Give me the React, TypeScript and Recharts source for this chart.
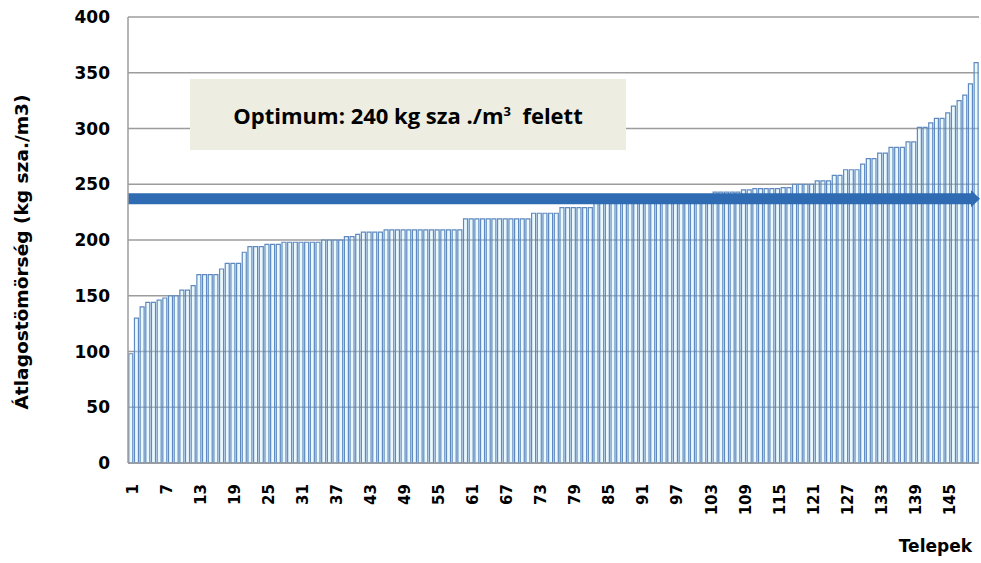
import { BarChart, Bar, XAxis, YAxis, CartesianGrid, ReferenceLine } from "recharts";

// sorted average density per site (kg sza./m3)
const VALUES = [
  98, 130, 140, 144, 144, 146, 148, 150, 150, 155,
  155, 159, 169, 169, 169, 169, 174, 179, 179, 179,
  189, 194, 194, 194, 196, 196, 196, 198, 198, 198,
  198, 198, 198, 198, 200, 200, 200, 200, 203, 203,
  205, 207, 207, 207, 207, 209, 209, 209, 209, 209,
  209, 209, 209, 209, 209, 209, 209, 209, 209, 219,
  219, 219, 219, 219, 219, 219, 219, 219, 219, 219,
  219, 224, 224, 224, 224, 224, 229, 229, 229, 229,
  229, 229, 233, 233, 233, 233, 233, 233, 233, 233,
  236, 236, 236, 236, 236, 236, 236, 240, 240, 240,
  240, 240, 240, 243, 243, 243, 243, 243, 245, 245,
  246, 246, 246, 246, 246, 247, 247, 250, 250, 250,
  250, 253, 253, 253, 258, 258, 263, 263, 263, 268,
  273, 273, 278, 278, 283, 283, 283, 288, 288, 301,
  301, 305, 309, 309, 314, 320, 325, 330, 340, 359,
];

const TELEPEK = VALUES.map((_, i) => i + 1);

const TICK_LABELS = [1, 7, 13, 19, 25, 31, 37, 43, 49, 55, 61, 67, 73, 79, 85, 91, 97, 103, 109, 115, 121, 127, 133, 139, 145];
const Y_TICKS = [0, 50, 100, 150, 200, 250, 300, 350, 400];
const OPTIMUM_LINE = 237;

const data = TELEPEK.map((t, i) => ({ telep: t, value: VALUES[i] }));

const ARROW = "#2f6bb2";
const GRID = "#9c9c9c";
const TICK_FONT = "'DejaVu Sans', sans-serif";
const BOX_FONT = "'Open Sans', sans-serif";

function XTick({ x, y, payload }: any) {
  if (!TICK_LABELS.includes(payload.value)) return <g />;
  const tx = x + 2;
  const ty = y + 21;
  return (
    <text
      x={tx}
      y={ty}
      transform={`rotate(-90, ${tx}, ${ty})`}
      textAnchor="end"
      dominantBaseline="central"
      fontFamily={TICK_FONT}
      fontWeight="bold"
      fontSize={15}
      fill="#000"
    >
      {payload.value}
    </text>
  );
}

function ArrowShape({ viewBox }: any) {
  const { x, y, width } = viewBox;
  const end = x + width + 1;
  return (
    <g>
      <rect x={x} y={y - 5.5} width={width - 7} height={11} fill={ARROW} />
      <polygon points={`${end - 9},${y - 8.5} ${end},${y} ${end - 9},${y + 8.5}`} fill={ARROW} />
    </g>
  );
}

export default function App() {
  return (
    <div style={{ position: "fixed", left: 0, top: 0, width: 981, height: 563, background: "#fff" }}>
      <BarChart
        width={981}
        height={563}
        data={data}
        margin={{ top: 17, right: 2, bottom: 0, left: 0 }}
        barCategoryGap="14%"
      >
        <CartesianGrid vertical={false} stroke={GRID} strokeWidth={1.5} />
        <XAxis
          dataKey="telep"
          interval={0}
          height={100}
          tickSize={0}
          tickMargin={0}
          tick={<XTick />}
          axisLine={{ stroke: GRID, strokeWidth: 1.5 }}
          tickLine={false}
          label={(p: any) => (
            <text
              x={p.viewBox.x + p.viewBox.width - 7}
              y={552}
              textAnchor="end"
              fontFamily={TICK_FONT}
              fontWeight="bold"
              fontSize={17}
              fill="#000"
            >
              Telepek
            </text>
          )}
        />
        <YAxis
          width={128}
          domain={[0, 400]}
          ticks={Y_TICKS}
          tickSize={0}
          tickMargin={18}
          tickLine={false}
          axisLine={{ stroke: GRID, strokeWidth: 1.5 }}
          tick={{ fontFamily: TICK_FONT, fontWeight: "bold", fontSize: 17, fill: "#000" }}
          label={(p: any) => {
            const cx = 22;
            const cy = p.viewBox.y + p.viewBox.height / 2 + 12;
            return (
              <text
                x={cx}
                y={cy}
                transform={`rotate(-90, ${cx}, ${cy})`}
                textAnchor="middle"
                dominantBaseline="central"
                fontFamily={TICK_FONT}
                fontWeight="bold"
                fontSize={17}
                textLength={315}
                lengthAdjust="spacingAndGlyphs"
                fill="#000"
              >
                Átlagostömörség (kg sza./m3)
              </text>
            );
          }}
        />
        <Bar
          dataKey="value"
          fill="#c4eefa"
          fillOpacity={0.35}
          stroke="#5f89bf"
          strokeWidth={1.2}
          isAnimationActive={false}
        />
        <ReferenceLine y={OPTIMUM_LINE} stroke="none" label={(p: any) => <ArrowShape viewBox={p.viewBox} />} />
      </BarChart>
      <div
        style={{
          position: "absolute",
          left: 190,
          top: 79,
          width: 436,
          height: 71,
          background: "#ededE1",
          display: "flex",
          alignItems: "center",
          justifyContent: "center",
          fontFamily: BOX_FONT,
          fontWeight: "bold",
          fontSize: 22,
          color: "#000",
        }}
      >
        <span>
          Optimum: 240 kg sza ./m<sup style={{ fontSize: 13 }}>3</sup>&nbsp; felett
        </span>
      </div>
    </div>
  );
}
